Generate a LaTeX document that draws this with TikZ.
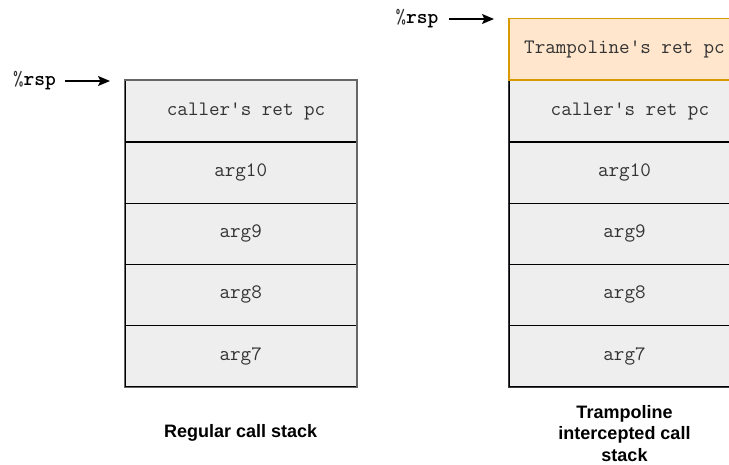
\documentclass[tikz,border=0pt]{standalone}
\usepackage{fontspec}
\setmainfont{Liberation Sans}
\setsansfont{Liberation Sans}
\usetikzlibrary{arrows.meta}
\definecolor{cellfill}{HTML}{EEEEEE}
\definecolor{leftframe}{HTML}{666666}
\definecolor{rightframe}{HTML}{36393D}
\definecolor{trampfill}{HTML}{FFE6CC}
\definecolor{trampline}{HTML}{D79B00}
\definecolor{celltext}{HTML}{333333}
\begin{document}
\begin{tikzpicture}[x=1pt,y=-1pt,
  cell/.style={rectangle, draw=black, fill=cellfill, line width=1.2pt,
    minimum width=231pt, minimum height=61.2pt, inner sep=0pt,
    font=\ttfamily\fontsize{20.5}{22}\selectfont, text=celltext},
  tramp/.style={cell, draw=trampline, fill=trampfill},
  frame/.style={line width=1.5pt},
  reglabel/.style={inner sep=0pt, font=\ttfamily\fontsize{20.5}{22}\selectfont},
  ptr/.style={-{Stealth[length=12pt,width=10pt,inset=2.5pt]}, line width=1.5pt},
  caption/.style={align=center, inner sep=0pt,
    font=\sffamily\bfseries\fontsize{18}{21.5}\selectfont}]
\useasboundingbox (0,0) rectangle (729,464);
\clip (0,0) rectangle (729,464);

% regular call stack
\node[cell] (l1) at (240.7,111.3) {\hspace*{0.525em}caller's ret pc};
\node[cell] (l2) at (240.7,172.5) {arg10};
\node[cell] (l3) at (240.7,233.7) {arg9};
\node[cell] (l4) at (240.7,294.9) {arg8};
\node[cell] (l5) at (240.7,356.1) {arg7};
\draw[frame, draw=leftframe] (l1.north west) rectangle (l5.south east);

\node[reglabel] (rspA) at (34.5,81) {{\color{celltext}\%}\textbf{rsp}};
\coordinate (rspAtip) at (110,81);
\draw[ptr, shorten <=9pt] (rspA) -- (rspAtip);

\node[caption] (capA) at (240.7,433) {Regular call stack};

% stack with the trampoline's return address pushed on top
\node[cell] (r2) at (624.5,111.3) {\hspace*{0.525em}caller's ret pc};
\node[cell] (r3) at (624.5,172.5) {arg10};
\node[cell] (r4) at (624.5,233.7) {arg9};
\node[cell] (r5) at (624.5,294.9) {arg8};
\node[cell] (r6) at (624.5,356.1) {arg7};
\draw[frame, draw=rightframe] (r2.north west) rectangle (r6.south east);
\node[tramp] (r1) at (624.5,49.4) {Trampoline's ret pc};

\node[reglabel] (rspB) at (417,19) {{\color{celltext}\%}\textbf{rsp}};
\coordinate (rspBtip) at (494,19);
\draw[ptr, shorten <=10pt] (rspB) -- (rspBtip);

\node[caption] (capB) at (624.5,433.5) {Trampoline\\intercepted call\\stack};
\end{tikzpicture}
\end{document}
